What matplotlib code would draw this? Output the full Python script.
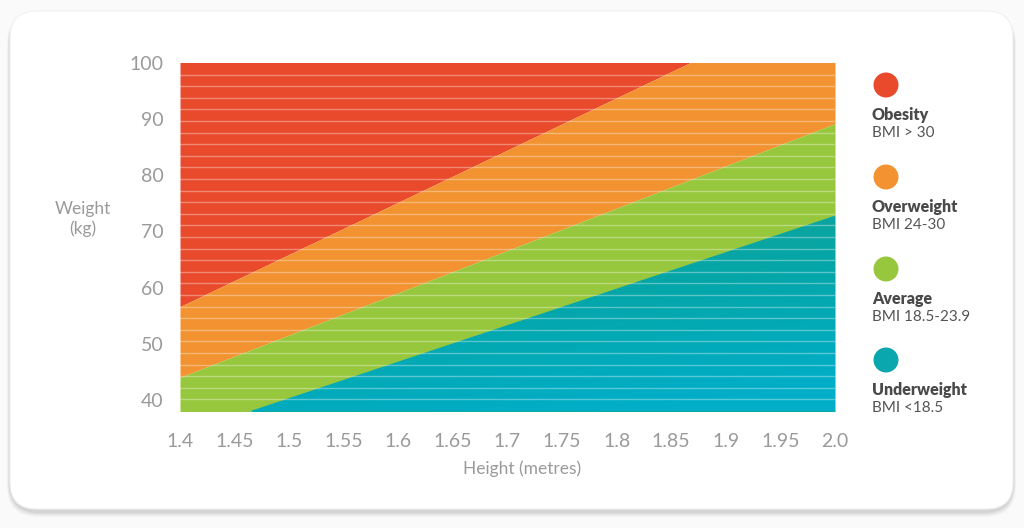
import numpy as np
import matplotlib
matplotlib.use("Agg")
import matplotlib.pyplot as plt
from matplotlib.patches import FancyBboxPatch, Circle
from matplotlib.colors import LinearSegmentedColormap

# ---- data ----
heights = [1.4, 2.0]                 # metres, ends of the straight boundaries
obesity_lower = [56.6, 112.4]        # kg, red / orange boundary
overweight_lower = [44.0, 89.2]      # kg, orange / green boundary
average_lower = [33.8, 72.8]         # kg, green / teal boundary
x_ticks = [1.4, 1.45, 1.5, 1.55, 1.6, 1.65, 1.7, 1.75, 1.8, 1.85, 1.9, 1.95, 2.0]
x_tick_labels = ["1.4", "1.45", "1.5", "1.55", "1.6", "1.65", "1.7", "1.75", "1.8",
                 "1.85", "1.9", "1.95", "2.0"]
y_ticks = [40, 50, 60, 70, 80, 90, 100]
legend_titles = ["Obesity", "Overweight", "Average", "Underweight"]
legend_subs = ["BMI > 30", "BMI 24-30", "BMI 18.5-23.9", "BMI <18.5"]
colors = ["#E84A2B", "#F29230", "#97C73D", "#0BA8A6"]

plt.rcParams['font.family'] = ['Lato', 'DejaVu Sans']

W, H = 10.24, 5.28
fig = plt.figure(figsize=(W, H), dpi=100)
fig.patch.set_facecolor("#FAFAFA")

# card with soft shadow
for i, a in enumerate([0.025, 0.025, 0.03, 0.035, 0.04]):
    g = 6 - i
    sh = FancyBboxPatch((10 / 1024 - g / 1024 * 0.5, 1 - 509 / 528 - (g + 2) / 528),
                        1003 / 1024 + g / 1024, 498 / 528 + g / 528,
                        boxstyle="round,pad=0,rounding_size=0.03",
                        transform=fig.transFigure, facecolor="#000000", alpha=a,
                        edgecolor="none", mutation_aspect=1024 / 528, zorder=0)
    fig.add_artist(sh)
card = FancyBboxPatch((10 / 1024, 1 - 509 / 528), 1003 / 1024, 498 / 528,
                      boxstyle="round,pad=0,rounding_size=0.026",
                      transform=fig.transFigure, facecolor="white",
                      edgecolor="#F0F0F0", linewidth=0.8,
                      mutation_aspect=1024 / 528, zorder=0.5)
fig.add_artist(card)

ax = fig.add_axes([180 / 1024, 1 - 411 / 528, 655 / 1024, 348 / 528])
ax.set_zorder(2)
ax.patch.set_alpha(0)
ymin, ymax = 38, 100
ax.set_xlim(1.4, 2.0)
ax.set_ylim(ymin, ymax)

x = np.array(heights)
ob = np.array(obesity_lower)
ov = np.array(overweight_lower)
av = np.array(average_lower)

ax.fill_between(x, ob, ymax + 50, color=colors[0], linewidth=0, zorder=1)
ax.fill_between(x, ov, ob, color=colors[1], linewidth=0, zorder=1)
ax.fill_between(x, av, ov, color=colors[2], linewidth=0, zorder=1)
teal = ax.fill_between(x, ymin - 10, av, color=colors[3], linewidth=0, zorder=1)

# teal gradient: greenish teal at its top, bluish towards bottom-right
cmap = LinearSegmentedColormap.from_list("teal", ["#17A394", "#04A6A9", "#00AFCB"])
top_teal = max(average_lower)
gxs = np.linspace(0, 1, 200)
gys = np.linspace(ymin, top_teal, 200)
GX, GY = np.meshgrid(gxs, gys)
grad = np.clip(0.3 * GX + 0.8 * (top_teal - GY) / (top_teal - ymin), 0, 1)
im = ax.imshow(grad, extent=(1.4, 2.0, ymin, top_teal), cmap=cmap, aspect="auto",
               zorder=1.5, origin="lower", vmin=0, vmax=1.05)
im.set_clip_path(teal.get_paths()[0], transform=ax.transData)

# thin white stripes
n_bands = 30
for k in range(1, n_bands):
    yv = ymax - k * (ymax - ymin) / n_bands
    ax.axhline(yv, color="white", alpha=0.35, linewidth=1.0, zorder=3)

for s in ax.spines.values():
    s.set_visible(False)
ax.set_xticks(x_ticks)
ax.set_xticklabels(x_tick_labels)
ax.set_yticks(y_ticks)
ax.tick_params(axis="both", length=0, colors="#9A9A9A", labelsize=14)
ax.tick_params(axis="x", pad=16)
ax.tick_params(axis="y", pad=12)

fig.text(522 / 1024, 1 - 469 / 528, "Height (metres)", ha="center", va="center",
         fontsize=12.5, color="#9A9A9A")
fig.text(83 / 1024, 1 - 219 / 528, "Weight\n(kg)", ha="center", va="center",
         fontsize=12.5, color="#9A9A9A", linespacing=1.25)

# legend
cy = [85, 177, 269, 360]
for i in range(4):
    c = Circle((886 / 100, (528 - cy[i]) / 100), 0.125, transform=fig.dpi_scale_trans,
               facecolor=colors[i] if i < 3 else "#0AA7AE", edgecolor="none")
    fig.add_artist(c)
    fig.text(872 / 1024, 1 - (cy[i] + 30) / 528, legend_titles[i], ha="left",
             va="center", fontsize=11.5, fontweight="heavy", color="#4A4A4A")
    fig.text(872 / 1024, 1 - (cy[i] + 48) / 528, legend_subs[i], ha="left",
             va="center", fontsize=11, color="#555555")

fig.savefig("out.png", dpi=100, facecolor=fig.get_facecolor())
